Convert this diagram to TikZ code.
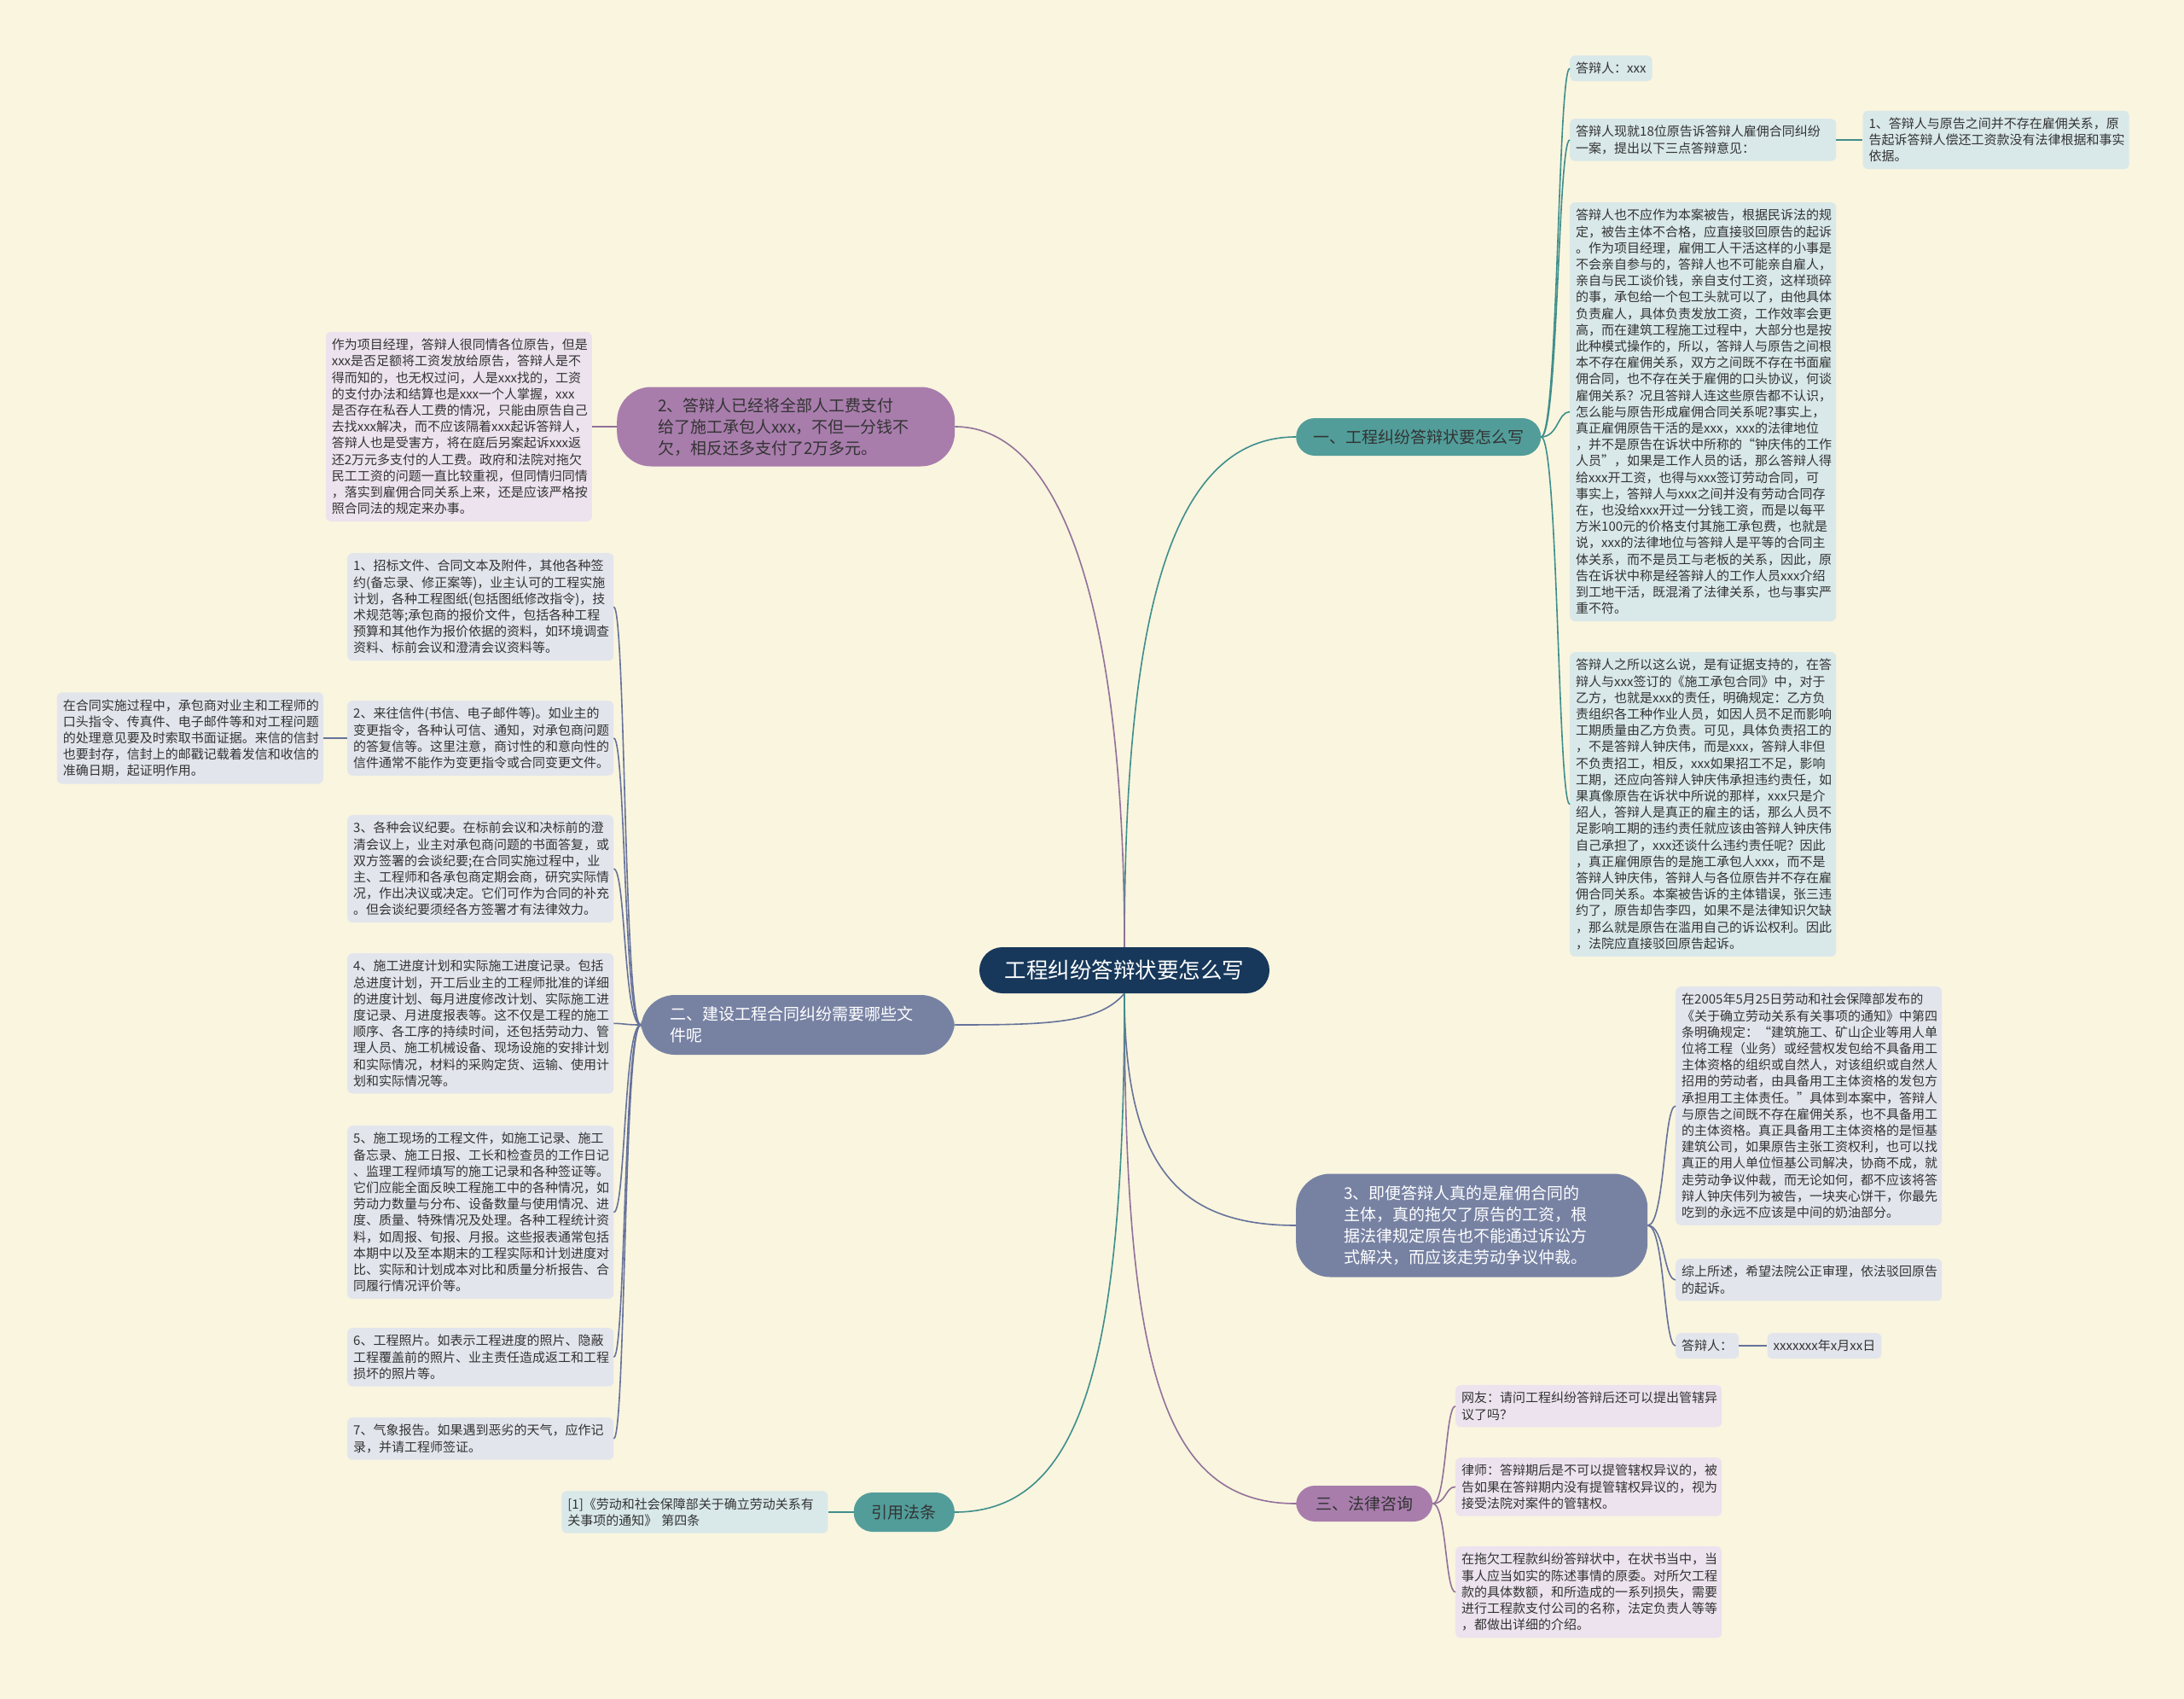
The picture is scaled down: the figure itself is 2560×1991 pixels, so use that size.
\documentclass[tikz,border=0pt]{standalone}
\usepackage{fontspec}
\setmainfont{Noto Sans CJK SC}
\usepackage{tikz}
\usetikzlibrary{positioning}
\definecolor{mapbg}{HTML}{F9F5DF}
\definecolor{rootink}{HTML}{17385A}
\definecolor{tealfill}{HTML}{529D9A}
\definecolor{tealline}{HTML}{3F8E8B}
\definecolor{tealleaf}{HTML}{D9E8E9}
\definecolor{plumfill}{HTML}{A87DAC}
\definecolor{plumline}{HTML}{93709A}
\definecolor{plumleaf}{HTML}{ECE3EE}
\definecolor{slatefill}{HTML}{7782A3}
\definecolor{slateline}{HTML}{66729A}
\definecolor{slateleaf}{HTML}{E2E5EC}
\definecolor{leafink}{HTML}{333333}

\begin{document}
\begin{tikzpicture}[x=1pt,y=-1pt,
 root/.style={fill=rootink,text=white,rounded corners=27pt,minimum width=340pt,minimum height=54pt,font=\fontsize{25.5}{30}\selectfont},
 branch/.style={rounded corners=22pt,minimum height=44pt,inner xsep=20pt,font=\fontsize{19}{25}\selectfont,text=leafink},
 bigbranch/.style={branch,rounded corners=40pt,text width=300pt,align=left},
 leaf/.style={rounded corners=6pt,inner xsep=7pt,inner ysep=8pt,font=\fontsize{15}{19.2}\selectfont,text=leafink},
 wide/.style={leaf,text width=298pt,align=left,anchor=north west},
 lnk/.style={line width=1.6pt}]
\useasboundingbox[fill=mapbg] (0,0) rectangle (2560,1991);
\node[root] (root) at (1318,1137) {工程纠纷答辩状要怎么写};
\node[branch,fill=tealfill,anchor=west] (b1) at (1519,512) {一、工程纠纷答辩状要怎么写};
\node[bigbranch,fill=plumfill,inner xsep=48pt,minimum height=93pt,anchor=west] (b2) at (723,500)
 {2、答辩人已经将全部人工费支付\\给了施工承包人xxx，不但一分钱不\\欠，相反还多支付了2万多元。};
\node[bigbranch,fill=slatefill,text=white,inner xsep=34pt,minimum height=70pt,anchor=west] (b3) at (751,1201)
 {二、建设工程合同纠纷需要哪些文\\件呢};
\node[bigbranch,fill=slatefill,text=white,inner xsep=56pt,minimum height=121pt,anchor=west] (b4) at (1519,1436)
 {3、即便答辩人真的是雇佣合同的\\主体，真的拖欠了原告的工资，根\\据法律规定原告也不能通过诉讼方\\式解决，而应该走劳动争议仲裁。};
\node[branch,fill=plumfill,inner xsep=23pt,minimum height=42pt,anchor=west] (b5) at (1519,1762) {三、法律咨询};
\node[branch,fill=tealfill,inner xsep=21pt,minimum height=46pt,anchor=east] (b6) at (1119,1772) {引用法条};

\node[leaf,fill=tealleaf,anchor=north west] (a1) at (1840,65) {答辩人：xxx};
\node[wide,fill=tealleaf] (a2) at (1840,139)
 {答辩人现就18位原告诉答辩人雇佣合同纠纷\\一案，提出以下三点答辩意见：};
\node[wide,fill=tealleaf,right=31pt of a2] (a3)
 {1、答辩人与原告之间并不存在雇佣关系，原\\告起诉答辩人偿还工资款没有法律根据和事实\\依据。};
\node[wide,fill=tealleaf] (a4) at (1840,237)
 {答辩人也不应作为本案被告，根据民诉法的规\\定，被告主体不合格，应直接驳回原告的起诉\\。作为项目经理，雇佣工人干活这样的小事是\\不会亲自参与的，答辩人也不可能亲自雇人，\\亲自与民工谈价钱，亲自支付工资，这样琐碎\\的事，承包给一个包工头就可以了，由他具体\\负责雇人，具体负责发放工资，工作效率会更\\高，而在建筑工程施工过程中，大部分也是按\\此种模式操作的，所以，答辩人与原告之间根\\本不存在雇佣关系，双方之间既不存在书面雇\\佣合同，也不存在关于雇佣的口头协议，何谈\\雇佣关系？况且答辩人连这些原告都不认识，\\怎么能与原告形成雇佣合同关系呢?事实上，\\真正雇佣原告干活的是xxx，xxx的法律地位\\，并不是原告在诉状中所称的“钟庆伟的工作\\人员”，如果是工作人员的话，那么答辩人得\\给xxx开工资，也得与xxx签订劳动合同，可\\事实上，答辩人与xxx之间并没有劳动合同存\\在，也没给xxx开过一分钱工资，而是以每平\\方米100元的价格支付其施工承包费，也就是\\说，xxx的法律地位与答辩人是平等的合同主\\体关系，而不是员工与老板的关系，因此，原\\告在诉状中称是经答辩人的工作人员xxx介绍\\到工地干活，既混淆了法律关系，也与事实严\\重不符。};
\node[wide,fill=tealleaf] (a5) at (1840,764)
 {答辩人之所以这么说，是有证据支持的，在答\\辩人与xxx签订的《施工承包合同》中，对于\\乙方，也就是xxx的责任，明确规定：乙方负\\责组织各工种作业人员，如因人员不足而影响\\工期质量由乙方负责。可见，具体负责招工的\\，不是答辩人钟庆伟，而是xxx，答辩人非但\\不负责招工，相反，xxx如果招工不足，影响\\工期，还应向答辩人钟庆伟承担违约责任，如\\果真像原告在诉状中所说的那样，xxx只是介\\绍人，答辩人是真正的雇主的话，那么人员不\\足影响工期的违约责任就应该由答辩人钟庆伟\\自己承担了，xxx还谈什么违约责任呢？因此\\，真正雇佣原告的是施工承包人xxx，而不是\\答辩人钟庆伟，答辩人与各位原告并不存在雇\\佣合同关系。本案被告诉的主体错误，张三违\\约了，原告却告李四，如果不是法律知识欠缺\\，那么就是原告在滥用自己的诉讼权利。因此\\，法院应直接驳回原告起诉。};

\node[wide,fill=plumleaf,left=29pt of b2] (p1)
 {作为项目经理，答辩人很同情各位原告，但是\\xxx是否足额将工资发放给原告，答辩人是不\\得而知的，也无权过问，人是xxx找的，工资\\的支付办法和结算也是xxx一个人掌握，xxx\\是否存在私吞人工费的情况，只能由原告自己\\去找xxx解决，而不应该隔着xxx起诉答辩人，\\答辩人也是受害方，将在庭后另案起诉xxx返\\还2万元多支付的人工费。政府和法院对拖欠\\民工工资的问题一直比较重视，但同情归同情\\，落实到雇佣合同关系上来，还是应该严格按\\照合同法的规定来办事。};

\node[wide,fill=slateleaf] (c1) at (407,648)
 {1、招标文件、合同文本及附件，其他各种签\\约(备忘录、修正案等)，业主认可的工程实施\\计划，各种工程图纸(包括图纸修改指令)，技\\术规范等;承包商的报价文件，包括各种工程\\预算和其他作为报价依据的资料，如环境调查\\资料、标前会议和澄清会议资料等。};
\node[wide,fill=slateleaf] (c2) at (407,821)
 {2、来往信件(书信、电子邮件等)。如业主的\\变更指令，各种认可信、通知，对承包商问题\\的答复信等。这里注意，商讨性的和意向性的\\信件通常不能作为变更指令或合同变更文件。};
\node[wide,fill=slateleaf,left=28pt of c2] (c2a)
 {在合同实施过程中，承包商对业主和工程师的\\口头指令、传真件、电子邮件等和对工程问题\\的处理意见要及时索取书面证据。来信的信封\\也要封存，信封上的邮戳记载着发信和收信的\\准确日期，起证明作用。};
\node[wide,fill=slateleaf] (c3) at (407,955)
 {3、各种会议纪要。在标前会议和决标前的澄\\清会议上，业主对承包商问题的书面答复，或\\双方签署的会谈纪要;在合同实施过程中，业\\主、工程师和各承包商定期会商，研究实际情\\况，作出决议或决定。它们可作为合同的补充\\。但会谈纪要须经各方签署才有法律效力。};
\node[wide,fill=slateleaf] (c4) at (407,1117)
 {4、施工进度计划和实际施工进度记录。包括\\总进度计划，开工后业主的工程师批准的详细\\的进度计划、每月进度修改计划、实际施工进\\度记录、月进度报表等。这不仅是工程的施工\\顺序、各工序的持续时间，还包括劳动力、管\\理人员、施工机械设备、现场设施的安排计划\\和实际情况，材料的采购定货、运输、使用计\\划和实际情况等。};
\node[wide,fill=slateleaf] (c5) at (407,1319)
 {5、施工现场的工程文件，如施工记录、施工\\备忘录、施工日报、工长和检查员的工作日记\\、监理工程师填写的施工记录和各种签证等。\\它们应能全面反映工程施工中的各种情况，如\\劳动力数量与分布、设备数量与使用情况、进\\度、质量、特殊情况及处理。各种工程统计资\\料，如周报、旬报、月报。这些报表通常包括\\本期中以及至本期末的工程实际和计划进度对\\比、实际和计划成本对比和质量分析报告、合\\同履行情况评价等。};
\node[wide,fill=slateleaf] (c6) at (407,1556)
 {6、工程照片。如表示工程进度的照片、隐蔽\\工程覆盖前的照片、业主责任造成返工和工程\\损坏的照片等。};
\node[wide,fill=slateleaf] (c7) at (407,1661)
 {7、气象报告。如果遇到恶劣的天气，应作记\\录，并请工程师签证。};

\node[wide,fill=slateleaf] (d1) at (1964,1156)
 {在2005年5月25日劳动和社会保障部发布的\\《关于确立劳动关系有关事项的通知》中第四\\条明确规定：“建筑施工、矿山企业等用人单\\位将工程（业务）或经营权发包给不具备用工\\主体资格的组织或自然人，对该组织或自然人\\招用的劳动者，由具备用工主体资格的发包方\\承担用工主体责任。”具体到本案中，答辩人\\与原告之间既不存在雇佣关系，也不具备用工\\的主体资格。真正具备用工主体资格的是恒基\\建筑公司，如果原告主张工资权利，也可以找\\真正的用人单位恒基公司解决，协商不成，就\\走劳动争议仲裁，而无论如何，都不应该将答\\辩人钟庆伟列为被告，一块夹心饼干，你最先\\吃到的永远不应该是中间的奶油部分。};
\node[wide,fill=slateleaf] (d2) at (1964,1475)
 {综上所述，希望法院公正审理，依法驳回原告\\的起诉。};
\node[leaf,fill=slateleaf,anchor=north west] (d3) at (1964,1562) {答辩人：};
\node[leaf,fill=slateleaf,right=33pt of d3] (d4) {xxxxxxx年x月xx日};

\node[wide,fill=plumleaf] (e1) at (1706,1623)
 {网友：请问工程纠纷答辩后还可以提出管辖异\\议了吗？};
\node[wide,fill=plumleaf] (e2) at (1706,1708)
 {律师：答辩期后是不可以提管辖权异议的，被\\告如果在答辩期内没有提管辖权异议的，视为\\接受法院对案件的管辖权。};
\node[wide,fill=plumleaf] (e3) at (1706,1812)
 {在拖欠工程款纠纷答辩状中，在状书当中，当\\事人应当如实的陈述事情的原委。对所欠工程\\款的具体数额，和所造成的一系列损失，需要\\进行工程款支付公司的名称，法定负责人等等\\，都做出详细的介绍。};

\node[wide,fill=tealleaf,left=30pt of b6] (r1)
 {[1]《劳动和社会保障部关于确立劳动关系有\\关事项的通知》 第四条};

\draw[lnk,tealline] (root.north) .. controls +(0,-380) and +(-150,0) .. (b1.west);
\draw[lnk,plumline] (root.north) .. controls +(0,-380) and +(130,0) .. (b2.east);
\draw[lnk,slateline] (root.south) .. controls +(-30,35) and +(110,0) .. (b3.east);
\draw[lnk,slateline] (root.south) .. controls +(0,200) and +(-140,0) .. (b4.west);
\draw[lnk,plumline] (root.south) .. controls +(0,430) and +(-160,0) .. (b5.west);
\draw[lnk,tealline] (root.south) .. controls +(0,430) and +(150,0) .. (b6.east);

\foreach \n in {a1,a2,a4,a5}
 \draw[lnk,tealline] (b1.east) .. controls +(20,0) and +(-14,0) .. (\n.west);
\draw[lnk,tealline] (a2.east) -- (a3.west);
\draw[lnk,plumline] (b2.west) -- (p1.east);
\foreach \n in {c1,c2,c3,c4,c5,c6,c7}
 \draw[lnk,slateline] (b3.west) .. controls +(-20,0) and +(14,0) .. (\n.east);
\draw[lnk,slateline] (c2.west) -- (c2a.east);
\foreach \n in {d1,d2,d3}
 \draw[lnk,slateline] (b4.east) .. controls +(20,0) and +(-14,0) .. (\n.west);
\draw[lnk,slateline] (d3.east) -- (d4.west);
\foreach \n in {e1,e2,e3}
 \draw[lnk,plumline] (b5.east) .. controls +(16,0) and +(-12,0) .. (\n.west);
\draw[lnk,tealline] (b6.west) -- (r1.east);
\end{tikzpicture}
\end{document}
